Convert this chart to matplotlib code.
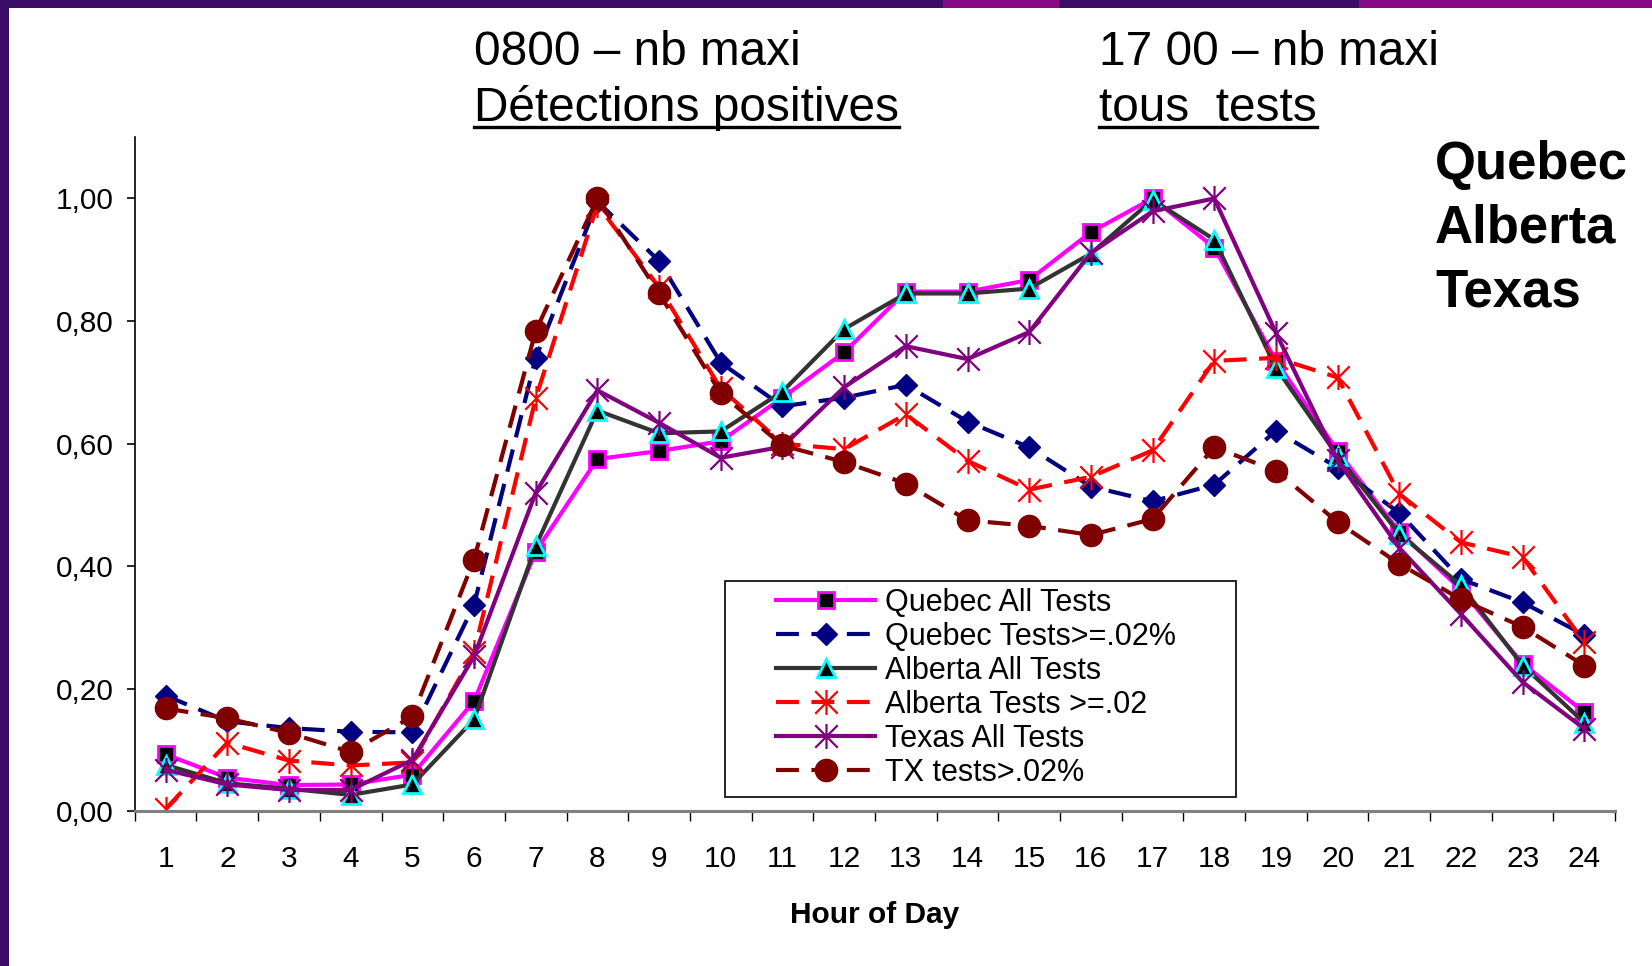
import matplotlib
matplotlib.use("Agg")
import matplotlib.pyplot as plt
from matplotlib.path import Path
from matplotlib.patches import Rectangle
from matplotlib.lines import Line2D
from matplotlib.ticker import FixedLocator, FuncFormatter

plt.rcParams['font.family'] = ['Liberation Sans', 'DejaVu Sans']

hours = list(range(1, 25))
quebec_all = [0.093, 0.055, 0.043, 0.044, 0.060, 0.180, 0.424, 0.575, 0.588, 0.604, 0.675, 0.749,
              0.848, 0.848, 0.867, 0.945, 1.000, 0.920, 0.735, 0.588, 0.456, 0.362, 0.241, 0.162]
quebec_02 = [0.189, 0.147, 0.136, 0.130, 0.129, 0.337, 0.740, 0.995, 0.898, 0.732, 0.661, 0.675,
             0.696, 0.636, 0.594, 0.530, 0.506, 0.533, 0.621, 0.561, 0.487, 0.379, 0.341, 0.288]
alberta_all = [0.076, 0.046, 0.037, 0.027, 0.044, 0.150, 0.433, 0.654, 0.617, 0.620, 0.685, 0.787,
               0.845, 0.845, 0.853, 0.910, 0.998, 0.933, 0.724, 0.580, 0.453, 0.369, 0.238, 0.145]
alberta_02 = [0.004, 0.112, 0.083, 0.075, 0.080, 0.260, 0.674, 0.990, 0.855, 0.690, 0.600, 0.591,
              0.648, 0.572, 0.525, 0.546, 0.589, 0.735, 0.740, 0.708, 0.518, 0.439, 0.415, 0.276]
texas_all = [0.068, 0.044, 0.035, 0.035, 0.084, 0.253, 0.520, 0.687, 0.634, 0.577, 0.595, 0.692,
             0.759, 0.738, 0.782, 0.911, 0.979, 1.000, 0.781, 0.573, 0.430, 0.322, 0.211, 0.135]
tx_02 = [0.168, 0.152, 0.128, 0.097, 0.155, 0.411, 0.784, 1.000, 0.845, 0.682, 0.597, 0.570,
         0.535, 0.475, 0.466, 0.451, 0.477, 0.594, 0.556, 0.472, 0.404, 0.346, 0.301, 0.238]

labels = ["Quebec All Tests", "Quebec Tests>=.02%", "Alberta All Tests",
          "Alberta Tests >=.02", "Texas All Tests", "TX tests>.02%"]
yticks = [0.0, 0.2, 0.4, 0.6, 0.8, 1.0]

# excel style star marker: an x with a vertical bar
star = Path([(0, -1), (0, 1), (-0.9, -0.9), (0.9, 0.9), (-0.9, 0.9), (0.9, -0.9)],
            [Path.MOVETO, Path.LINETO, Path.MOVETO, Path.LINETO, Path.MOVETO, Path.LINETO])

fig = plt.figure(figsize=(16.52, 9.66), dpi=100, facecolor='white')

# purple slide border
fig.patches.append(Rectangle((0, 0), 9 / 1652, 1, transform=fig.transFigure,
                             facecolor='#3b0c68', edgecolor='none'))
fig.patches.append(Rectangle((0, 1 - 8 / 966), 1, 8 / 966, transform=fig.transFigure,
                             facecolor='#3b0c68', edgecolor='none'))
fig.patches.append(Rectangle((943 / 1652, 1 - 8 / 966), 116 / 1652, 8 / 966, transform=fig.transFigure,
                             facecolor='#870a87', edgecolor='none'))
fig.patches.append(Rectangle((1359 / 1652, 1 - 8 / 966), 293 / 1652, 8 / 966, transform=fig.transFigure,
                             facecolor='#870a87', edgecolor='none'))

ax = fig.add_axes([0.0816, 0.160, 0.8961, 0.698])

lw = 3
dash = (5.5, 3)
ax.plot(hours, quebec_all, color='#ff00ff', lw=lw, marker='s', ms=12,
        mfc='black', mec='#ff00ff', mew=2, label=labels[0])
ax.plot(hours, quebec_02, color='#000080', lw=lw, dashes=dash, marker='D', ms=11,
        mfc='#000080', mec='#000080', label=labels[1])
ax.plot(hours, alberta_all, color='#333333', lw=lw, marker='^', ms=13,
        mfc='black', mec='#00ffff', mew=2, label=labels[2])
ax.plot(hours, alberta_02, color='#ff0000', lw=lw, dashes=dash, marker=star, ms=18,
        mfc='none', mec='#ff0000', mew=1.6, label=labels[3])
ax.plot(hours, texas_all, color='#800080', lw=lw, marker=star, ms=18,
        mfc='none', mec='#800080', mew=1.6, label=labels[4])
ax.plot(hours, tx_02, color='#800000', lw=lw, dashes=dash, marker='o', ms=16,
        mfc='#800000', mec='#800000', label=labels[5])

ax.set_xlim(0.5, 24.5)
ax.set_ylim(0, 1.1)
ax.set_xticks(hours)
ax.set_xticklabels([str(h) for h in hours])
ax.xaxis.set_minor_locator(FixedLocator([h - 0.5 for h in hours] + [24.5]))
ax.tick_params(axis='x', which='major', length=0, pad=24, labelsize=21.5)
ax.tick_params(axis='x', which='minor', length=7, width=1, color='black', direction='out')
ax.set_yticks(yticks)
ax.yaxis.set_major_formatter(FuncFormatter(lambda v, p: f"{v:.2f}".replace('.', ',')))
ax.tick_params(axis='y', length=6, width=1.2, color='black', pad=9, labelsize=21.5)

for s in ['top', 'right']:
    ax.spines[s].set_visible(False)
ax.spines['left'].set_color('black')
ax.spines['left'].set_linewidth(1.2)
ax.spines['bottom'].set_color('#808080')
ax.spines['bottom'].set_linewidth(2.2)

fig.text(0.5297, 0.053, "Hour of Day", ha='center', va='center', fontsize=21.5, fontweight='bold')

# legend with its own frame
frame = Rectangle((0.4389, 0.1749), 0.3093, 0.2237, transform=fig.transFigure,
                  facecolor='white', edgecolor='black', lw=1.2, zorder=4.5, clip_on=False)
ax.add_patch(frame)
leg = ax.legend(loc='upper left', bbox_to_anchor=(0.470, 0.3915), bbox_transform=fig.transFigure,
                frameon=False, fontsize=22, borderpad=0, labelspacing=0.13,
                handlelength=3.24, handletextpad=0.3, borderaxespad=0)
leg.set_zorder(5)

# headings
tsize = 34.4
t1 = fig.text(0.287, 0.9324, "0800 – nb maxi", fontsize=tsize, va='baseline', ha='left')
t2 = fig.text(0.287, 0.8746, "Détections positives", fontsize=tsize, va='baseline', ha='left')
t3 = fig.text(0.6652, 0.9324, "17 00 – nb maxi", fontsize=tsize, va='baseline', ha='left')
t4 = fig.text(0.6652, 0.8746, "tous  tests", fontsize=tsize, va='baseline', ha='left')

for i, name in enumerate(["Quebec", "Alberta", "Texas"]):
    fig.text(0.8686, 0.8146 - i * 0.066, name, fontsize=38, fontweight='bold',
             va='baseline', ha='left')

fig.canvas.draw()
r = fig.canvas.get_renderer()
for t in [t2, t4]:
    bb = t.get_window_extent(r).transformed(fig.transFigure.inverted())
    fig.add_artist(Line2D([bb.x0, bb.x1], [0.8746 - 6 / 966] * 2, color='black', lw=2.4,
                          transform=fig.transFigure))

fig.savefig("out.png", dpi=100, facecolor='white')
